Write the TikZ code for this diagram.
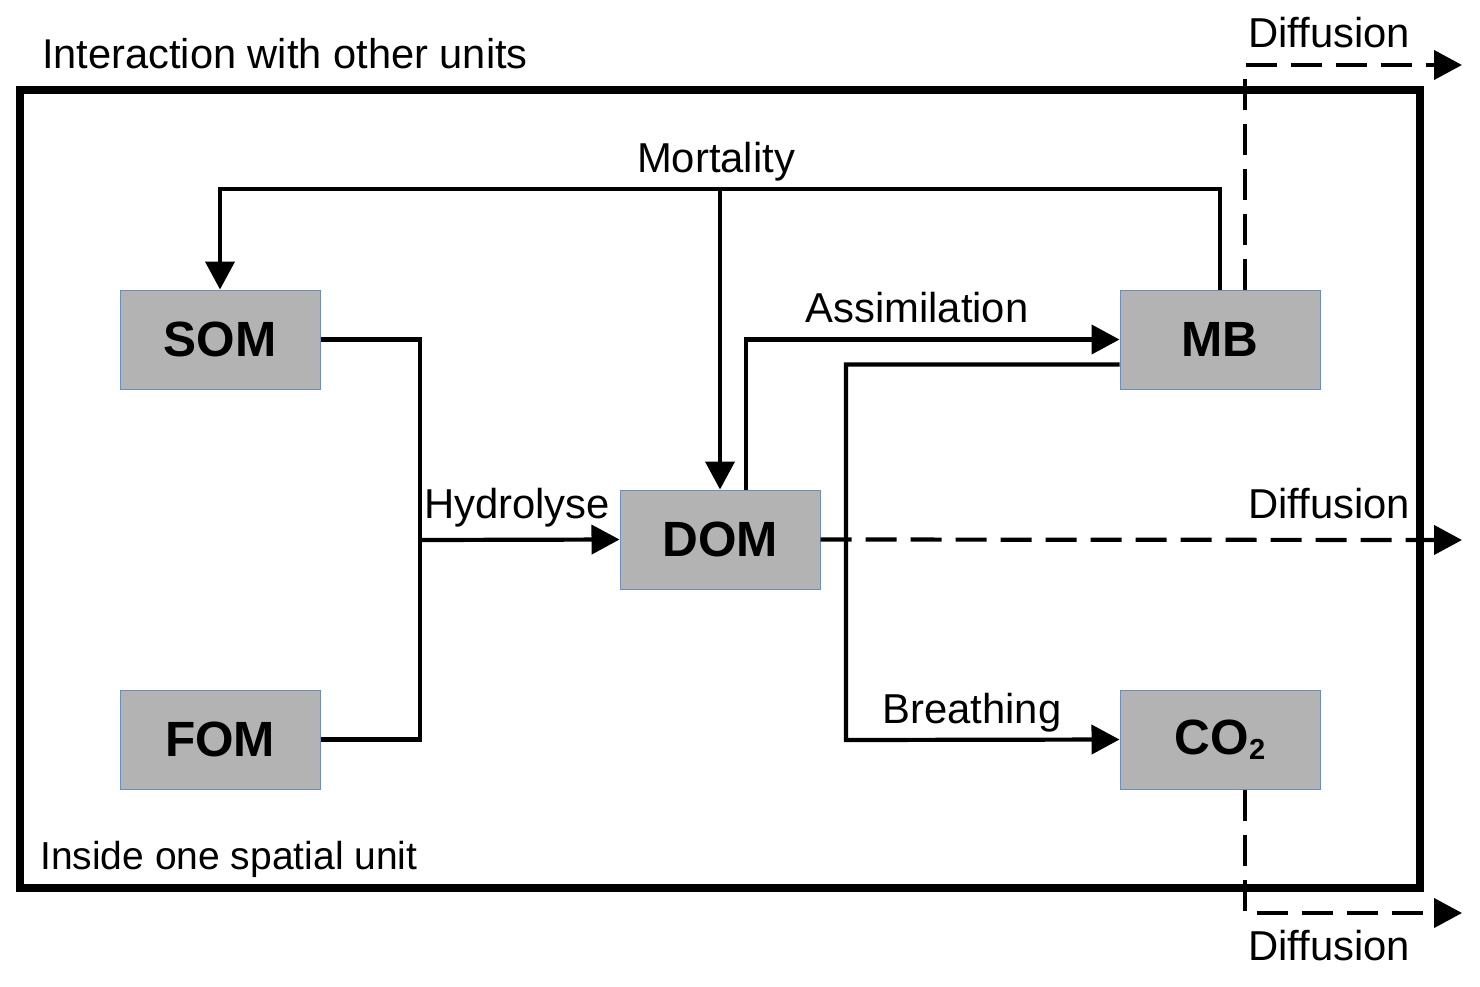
\documentclass[tikz,border=0pt]{standalone}
\usepackage{fontspec}
\setmainfont{Liberation Sans}
\usetikzlibrary{arrows.meta}
\definecolor{boxfill}{HTML}{B3B3B3}
\definecolor{boxline}{HTML}{6C8EBF}
\begin{document}
\begin{tikzpicture}[x=1pt,y=-1pt,
  box/.style={draw=boxline,fill=boxfill,line width=1pt,minimum width=200pt,minimum height=99pt,inner sep=0pt,
    font=\fontsize{49.5}{56}\selectfont\bfseries},
  conn/.style={line width=4.2pt,line join=miter},
  tip/.style={-{Triangle[length=28pt,width=29pt]}},
  dconn/.style={conn,dash pattern=on 31pt off 14pt,-{Triangle[length=28pt,width=29pt]}},
  frame/.style={line width=7.2pt,line join=miter},
  lbl/.style={inner sep=0pt,anchor=base,font=\fontsize{41.8}{48}\selectfont},
  lblw/.style={inner sep=0pt,anchor=base west,font=\fontsize{41.6}{48}\selectfont}]
\useasboundingbox (0,0) rectangle (1480,986);
\draw[frame] (20,90) rectangle (1420,888);
\node[lblw] (tint) at (42,68) {Interaction with other units};
\node[lblw,font=\fontsize{39}{46}\selectfont] (tin) at (40,869) {Inside one spatial unit};

\node[box] (som) at (220,339.5) {SOM};
\node[box] (fom) at (220,739.5) {FOM};
\node[box] (dom) at (720,539.5) {DOM};
\node[box] (mb) at (1220,339.5) {MB};
\node[box] (co2) at (1220,739.5) {CO\raisebox{-5pt}{\fontsize{29}{30}\selectfont 2}};

% Hydrolyse
\coordinate (hj) at (420,540);
\draw[conn] (som.east) -| (hj);
\draw[conn] (fom.east) -| (hj);
\draw[conn,tip] (hj) -- (dom.west);
\node[lbl] (thyd) at (517,518) {Hydrolyse};

% Mortality
\coordinate (mr) at (1220,189);
\coordinate (ml) at (220,189);
\coordinate (mm) at (720,189);
\draw[conn,tip] (mb.north) -- (mr) -- (ml) -- (som.north);
\draw[conn,tip] (mm) -- (dom.north);
\node[lbl] (tmor) at (716,172) {Mortality};

% Assimilation
\draw[conn,tip] ([xshift=26pt]dom.north) |- (mb.west);
\node[lbl] (tass) at (917,322) {Assimilation};

% Breathing
\coordinate (bc) at (846,740);
\draw[conn,tip] ([yshift=-25pt]mb.west) -| (bc) -- (co2.west);
\node[lbl] (tbre) at (972,723) {Breathing};

% Diffusion
\coordinate (d1) at (1462,65);
\coordinate (d2) at (1462,540);
\coordinate (d3) at (1462,913);
\draw[dconn] ([xshift=25pt]mb.north) |- (d1);
\draw[dconn] (dom.east) -- (d2);
\draw[dconn] ([xshift=25pt]co2.south) |- (d3);
\node[lbl] (tdif1) at (1329,47) {Diffusion};
\node[lbl] (tdif2) at (1329,518) {Diffusion};
\node[lbl] (tdif3) at (1329,960) {Diffusion};
\end{tikzpicture}
\end{document}
